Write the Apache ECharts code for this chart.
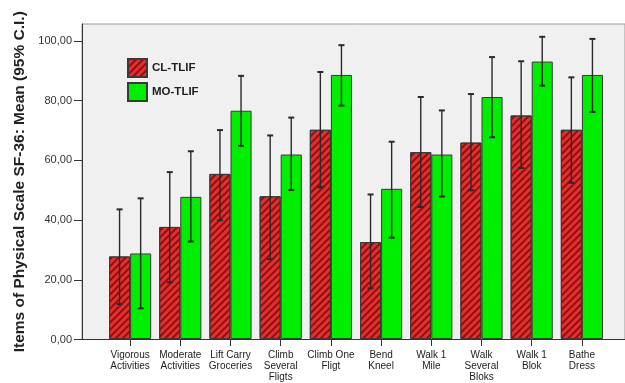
<!DOCTYPE html>
<html>
<head>
<meta charset="utf-8">
<script src="https://cdn.jsdelivr.net/npm/echarts@6/dist/echarts.min.js"></script>
<style>html,body{margin:0;padding:0;background:#fff;}#c{width:625px;height:383px;}</style>
</head>
<body>
<div id="c"></div>
<script>
var categories = ["Vigorous\nActivities", "Moderate\nActivities", "Lift Carry\nGroceries", "Climb\nSeveral\nFligts", "Climb One\nFligt", "Bend\nKneel", "Walk 1\nMile", "Walk\nSeveral\nBloks", "Walk 1\nBlok", "Bathe\nDress"];
var clMean = [27.7, 37.6, 55.4, 47.9, 70.2, 32.5, 62.7, 65.9, 75.0, 70.2];
var clLow  = [11.7, 19.0, 39.8, 26.8, 50.9, 17.0, 44.3, 49.9, 57.4, 52.4];
var clHigh = [43.5, 56.0, 70.1, 68.3, 89.6, 48.5, 81.2, 82.2, 93.2, 87.8];
var moMean = [28.7, 47.7, 76.6, 61.9, 88.6, 50.4, 61.9, 81.2, 93.1, 88.6];
var moLow  = [10.3, 32.7, 64.8, 50.0, 78.3, 34.0, 47.8, 67.7, 85.0, 76.2];
var moHigh = [47.2, 63.0, 88.3, 74.3, 98.6, 66.2, 76.7, 94.6, 101.4, 100.7];
var yTicks = [0, 20, 40, 60, 80, 100];
var yMax = 105.7;

function errData(lo, hi) {
  return lo.map(function (v, i) { return [i, v, hi[i]]; });
}
function errRender(sign) {
  return function (params, api) {
    var i = api.value(0);
    var band = api.size([1, 0])[0];
    var off = sign * band * 0.21;
    var top = api.coord([i, api.value(2)]);
    var bot = api.coord([i, api.value(1)]);
    var x = top[0] + off;
    var cap = 3;
    var st = { stroke: '#2a2a2a', lineWidth: 1.4 };
    return {
      type: 'group',
      children: [
        { type: 'line', shape: { x1: x, y1: top[1], x2: x, y2: bot[1] }, style: st },
        { type: 'line', shape: { x1: x - cap, y1: top[1], x2: x + cap, y2: top[1] }, style: { stroke: '#2a2a2a', lineWidth: 2 } },
        { type: 'line', shape: { x1: x - cap, y1: bot[1], x2: x + cap, y2: bot[1] }, style: { stroke: '#2a2a2a', lineWidth: 2 } }
      ]
    };
  };
}

var chart = echarts.init(document.getElementById('c'), null, { renderer: 'canvas' });
chart.setOption({
  animation: false,
  backgroundColor: '#ffffff',
  textStyle: { fontFamily: 'Liberation Sans, Arial, sans-serif' },
  legend: {
    orient: 'vertical',
    left: 122, top: 53,
    icon: 'rect',
    itemWidth: 19, itemHeight: 18, itemGap: 4,
    textStyle: { fontSize: 11.5, fontWeight: 'bold', color: '#222' },
    data: ['CL-TLIF', 'MO-TLIF']
  },
  grid: [
    { left: 82, right: -5, top: 24, bottom: 43.5, show: true, backgroundColor: '#f0f0f0', borderColor: '#9a9a9a', borderWidth: 1 },
    { left: 105, right: 18, top: 24, bottom: 43.5 }
  ],
  xAxis: [
    { gridIndex: 0, type: 'value', min: 0, max: 1, axisLine: { show: true, onZero: false, lineStyle: { color: '#333', width: 1 } }, axisTick: { show: false }, axisLabel: { show: false }, splitLine: { show: false } },
    { gridIndex: 1, type: 'category', data: categories,
      axisLine: { show: false },
      axisTick: { show: true, alignWithLabel: true, length: 7, lineStyle: { color: '#333' } },
      axisLabel: { interval: 0, margin: 11, fontSize: 10, lineHeight: 11, color: '#222' } }
  ],
  yAxis: [
    { gridIndex: 0, type: 'value', min: 0, max: yMax, interval: 20,
      axisLine: { show: true, lineStyle: { color: '#333' } },
      axisTick: { show: true, length: 8, customValues: yTicks, lineStyle: { color: '#333' } },
      axisLabel: { customValues: yTicks, margin: 10, fontSize: 11, color: '#333',
        formatter: function (v) { return v.toFixed(2).replace('.', ','); } },
      splitLine: { show: false },
      name: 'Items of Physical Scale SF-36: Mean (95% C.I.)',
      nameLocation: 'middle', nameGap: 54,
      nameTextStyle: { fontSize: 15.5, fontWeight: 'bold', color: '#222' } },
    { gridIndex: 1, type: 'value', min: 0, max: yMax, show: false, splitLine: { show: false } }
  ],
  series: [
    { name: 'CL-TLIF', type: 'bar', xAxisIndex: 1, yAxisIndex: 1, data: clMean, barWidth: '42%', barGap: '0%',
      itemStyle: { color: '#e2302f', borderColor: '#3a3a3a', borderWidth: 1,
        decal: { symbol: 'rect', dashArrayX: [1, 0], dashArrayY: [1.5, 2.5], rotation: -Math.PI / 4, color: 'rgba(110,0,0,0.7)', symbolSize: 1 } } },
    { name: 'MO-TLIF', type: 'bar', xAxisIndex: 1, yAxisIndex: 1, data: moMean, barWidth: '42%', barGap: '0%',
      itemStyle: { color: '#00ee00', borderColor: '#3a3a3a', borderWidth: 1 } },
    { type: 'custom', xAxisIndex: 1, yAxisIndex: 1, data: errData(clLow, clHigh), renderItem: errRender(-1), encode: { x: 0, y: [1, 2] }, z: 5, silent: true },
    { type: 'custom', xAxisIndex: 1, yAxisIndex: 1, data: errData(moLow, moHigh), renderItem: errRender(1), encode: { x: 0, y: [1, 2] }, z: 5, silent: true }
  ]
});
</script>
</body>
</html>
